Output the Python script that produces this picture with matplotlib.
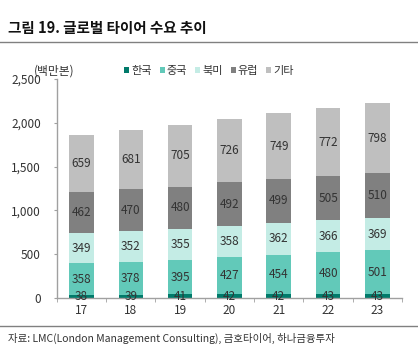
import matplotlib
matplotlib.use("Agg")
import matplotlib.pyplot as plt
import numpy as np

plt.rcParams['font.family'] = ['Noto Sans CJK KR', 'DejaVu Sans']

years = ['17', '18', '19', '20', '21', '22', '23']
korea = [38, 39, 41, 42, 42, 43, 43]
china = [358, 378, 395, 427, 454, 480, 501]
namerica = [349, 352, 355, 358, 362, 366, 369]
europe = [462, 470, 480, 492, 499, 505, 510]
others = [659, 681, 705, 726, 749, 772, 798]

series = [('한국', korea, '#007a6a'), ('중국', china, '#62c9b9'),
          ('북미', namerica, '#c4ece5'), ('유럽', europe, '#808080'),
          ('기타', others, '#bfbfbf')]

fig = plt.figure(figsize=(4.18, 3.54), dpi=100)
ax = fig.add_axes([0.136, 0.158, 0.826, 0.619])

x = np.arange(len(years))
bottom = np.zeros(len(years))
handles = []
for name, vals, col in series:
    v = np.array(vals, dtype=float)
    b = ax.bar(x, v, 0.5, bottom=bottom, color=col, label=name, zorder=2)
    handles.append(b)
    for xi, vi, bi in zip(x, v, bottom):
        ax.text(xi, bi + vi / 2, f'{int(vi)}', ha='center', va='center',
                fontsize=8.5, color='#333333', zorder=3)
    bottom += v

ax.set_ylim(0, 2500)
ax.set_xlim(-0.5, len(years) - 0.5)
ax.set_yticks(np.arange(0, 2501, 500))
ax.set_yticklabels([f'{t:,}' for t in range(0, 2501, 500)], fontsize=8.5, color='#333333')
ax.set_xticks(x)
ax.set_xticklabels(years, fontsize=8.5, color='#333333')
ax.set_xticks(np.arange(-0.5, len(years) + 0.5, 1), minor=True)
ax.tick_params(axis='x', which='major', length=0, pad=4)
ax.tick_params(axis='x', which='minor', length=3, color='#a0a0a0', direction='out')
ax.tick_params(axis='y', length=2.5, color='#a0a0a0', direction='out', pad=9)
for s in ['top', 'right']:
    ax.spines[s].set_visible(False)
for s in ['left', 'bottom']:
    ax.spines[s].set_color('#a0a0a0')
    ax.spines[s].set_linewidth(1.0)

leg = fig.legend(handles=handles, labels=[s[0] for s in series], loc='center',
                 bbox_to_anchor=(0.50, 0.80), ncol=5, frameon=False, fontsize=8,
                 handlelength=0.45, handleheight=0.45, handletextpad=0.2, columnspacing=0.7)
for t in leg.get_texts():
    t.set_color('#333333')

fig.text(0.08, 0.80, '(백만본)', fontsize=8.5, color='#333333', ha='left', va='center')
fig.text(0.02, 0.92, '그림 19. 글로벌 타이어 수요 추이', fontsize=10.5, fontweight='bold',
         color='#111111', ha='left', va='center')

fig.add_artist(plt.Line2D([0, 1], [0.88, 0.88], color='#808080', lw=1.0, transform=fig.transFigure))
fig.add_artist(plt.Line2D([0, 1], [0.079, 0.079], color='#808080', lw=1.0, transform=fig.transFigure))
fig.text(0.02, 0.045, '자료: LMC(London Management Consulting), 금호타이어, 하나금융투자', fontsize=7.5,
         color='#333333', ha='left', va='center')

fig.savefig('out.png', dpi=100)
